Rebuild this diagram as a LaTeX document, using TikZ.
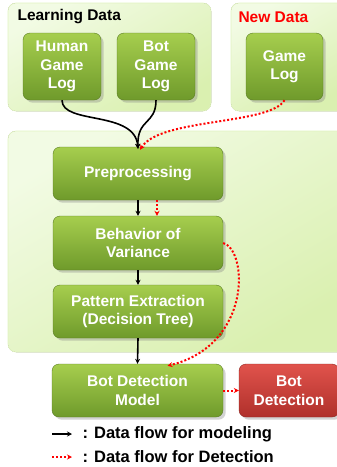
\documentclass[tikz,border=0pt]{standalone}
\usepackage{fontspec}
\setmainfont{Liberation Sans}
\usetikzlibrary{shadows,arrows.meta}

\definecolor{boxtop}{HTML}{A6CE4E}
\definecolor{boxbot}{HTML}{6F9A2B}
\definecolor{redtop}{HTML}{E0534C}
\definecolor{redbot}{HTML}{B0302B}
\definecolor{panelA}{HTML}{F2FBE4}
\definecolor{panelB}{HTML}{DAF0B0}

\tikzset{
  panel/.style={rounded corners=8pt, draw=panelB!80!white, line width=0.6pt,
    top color=panelA, bottom color=panelB, shading angle=30},
  stepbox/.style={rounded corners=7pt, draw=boxbot!80!black, line width=0.4pt,
    top color=boxtop, bottom color=boxbot, drop shadow={opacity=0.35},
    text=white, font=\bfseries\fontsize{15.5}{18.5}\selectfont, align=center,
    inner sep=0pt},
  redbox/.style={stepbox, top color=redtop, bottom color=redbot,
    draw=redbot!80!black},
  flow/.style={-{Stealth[length=5pt,width=5pt]}, line width=1.6pt, black},
  detect/.style={-{Stealth[length=5pt,width=5pt]}, line width=2pt, red,
    dash pattern=on 2pt off 2pt},
  title/.style={anchor=west, font=\bfseries\fontsize{15.5}{18}\selectfont},
  legend/.style={anchor=west, font=\bfseries\fontsize{16.5}{18}\selectfont}
}

\begin{document}
\begin{tikzpicture}[x=1pt,y=-1pt]
	\useasboundingbox (0,0) rectangle (337,467);
	%-----panels
	\fill[panel] (8,3) rectangle (211,111);
	\fill[panel] (231,3) rectangle (345,111);
	\fill[panel] (8,131) rectangle (345,352);
	\node[title] (learn) at (14,17) {Learning Data};
	\node[title, text=red] (new) at (235,17) {New Data};
	%-----boxes
	\node[stepbox, minimum width=78pt, minimum height=67pt] (human) at (62,66.5) {Human\\Game\\Log};
	\node[stepbox, minimum width=78pt, minimum height=67pt] (bot) at (156,66.5) {Bot\\Game\\Log};
	\node[stepbox, minimum width=77pt, minimum height=67pt] (game) at (284.5,66.5) {Game\\Log};
	\node[stepbox, minimum width=170pt, minimum height=53pt] (pre) at (138,173.5) {Preprocessing};
	\node[stepbox, minimum width=170pt, minimum height=54pt] (beh) at (138,243) {Behavior of\\Variance};
	\node[stepbox, minimum width=170pt, minimum height=53pt] (pat) at (138,311.5) {Pattern Extraction\\(Decision Tree)};
	\node[stepbox, minimum width=171pt, minimum height=53pt] (model) at (137.5,390.5) {Bot Detection\\Model};
	\node[redbox, minimum width=100pt, minimum height=53pt] (det) at (289,390.5) {Bot\\Detection};
	%-----connectors
	\draw[flow] (human.south) .. controls (62,125) and (135,110) .. ([yshift=-2pt]pre.north);
	\draw[flow] (bot.south) .. controls (156,125) and (137,118) .. ([yshift=-2pt]pre.north);
	\draw[detect] (game.south) .. controls (270,125) and (160,118) .. ([xshift=2pt,yshift=-3pt]pre.north);
	\foreach \from/\to in {pre/beh,beh/pat,pat/model}
	\draw[flow] (\from.south) -- (\to.north);
	\draw[detect] ([xshift=19pt]pre.south) -- ([xshift=19pt]beh.north);
	\draw[detect] (beh.east) .. controls (248,250) and (252,345) .. ([xshift=30pt,yshift=-2pt]model.north);
	\draw[detect] (model.east) -- (det.west);
	%-----legend
	\coordinate (la) at (52,434);
	\coordinate (lb) at (72,434);
	\coordinate (lc) at (52,457);
	\coordinate (ld) at (72,457);
	\draw[flow] (la) -- (lb);
	\draw[detect] (lc) -- (ld);
	\node[legend] (lmod) at (79,434) {: Data flow for modeling};
	\node[legend] (ldet) at (79,457) {: Data flow for Detection};
\end{tikzpicture}
\end{document}
